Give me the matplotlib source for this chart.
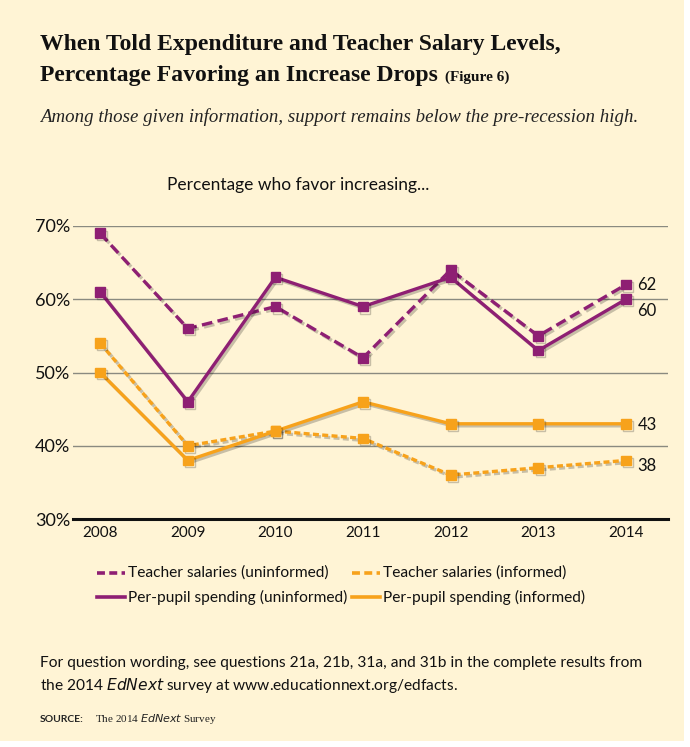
import matplotlib
matplotlib.use("Agg")
import matplotlib.pyplot as plt
import matplotlib.patheffects as pe
from matplotlib.patches import Rectangle
from matplotlib.lines import Line2D

years = [2008, 2009, 2010, 2011, 2012, 2013, 2014]
teacher_uninformed = [69, 56, 59, 52, 64, 55, 62]
perpupil_uninformed = [61, 46, 63, 59, 63, 53, 60]
teacher_informed = [54, 40, 42, 41, 36, 37, 38]
perpupil_informed = [50, 38, 42, 46, 43, 43, 43]
yticks = [30, 40, 50, 60, 70]
ytick_labels = ["30%", "40%", "50%", "60%", "70%"]
series_labels = ["Teacher salaries (uninformed)", "Teacher salaries (informed)",
                 "Per-pupil spending (uninformed)", "Per-pupil spending (informed)"]

PURPLE = "#8E1F73"
ORANGE = "#F7A21B"
BG = "#FFF4D5"
W, H = 690, 747

fig = plt.figure(figsize=(W / 100, H / 100), dpi=100)
fig.patch.set_facecolor("white")
fig.add_artist(Rectangle((0, 1 - 741 / H), 684 / W, 741 / H, transform=fig.transFigure,
                         facecolor=BG, edgecolor="none", zorder=-10))

def fx(px):
    return px / W

def fy(py):
    return 1 - py / H

sans = ["Lato", "DejaVu Sans"]
serif = ["Liberation Serif", "DejaVu Serif"]

fig.text(fx(40), fy(50), "When Told Expenditure and Teacher Salary Levels,", fontsize=17,
         fontweight="bold", family=serif, color="#111111", va="baseline")
t2 = fig.text(fx(40), fy(81), "Percentage Favoring an Increase Drops", fontsize=17,
              fontweight="bold", family=serif, color="#111111", va="baseline")
fig.canvas.draw()
bb = t2.get_window_extent(renderer=fig.canvas.get_renderer())
fig.text(bb.x1 / W + fx(7), fy(81), "(Figure 6)", fontsize=11, fontweight="bold", family=serif,
         color="#111111", va="baseline")
fig.text(fx(40), fy(122), "Among those given information, support remains below the pre-recession high.",
         fontsize=13.6, style="italic", family=serif, color="#222222", va="baseline")
fig.text(fx(298), fy(190), "Percentage who favor increasing...", fontsize=12.5, family=sans,
         color="#111111", ha="center", va="baseline")

x0, x1 = 2007.69, 2014.48
ax = fig.add_axes([fx(73), fy(519), fx(668) - fx(73), (519 - 226) / H])
ax.set_facecolor("none")
ax.set_xlim(x0, x1)
ax.set_ylim(30, 70)
for s in ["top", "right", "left"]:
    ax.spines[s].set_visible(False)
ax.spines["bottom"].set_linewidth(2.2)
ax.spines["bottom"].set_color("#111111")
ax.set_yticks(yticks)
ax.set_yticklabels(ytick_labels)
ax.set_xticks(years)
ax.set_xticklabels([str(y) for y in years])
ax.tick_params(axis="both", length=0, labelsize=11, colors="#111111")
ax.tick_params(axis="y", pad=2, labelsize=13)
ax.tick_params(axis="x", pad=5)
for lab in ax.get_xticklabels() + ax.get_yticklabels():
    lab.set_family(sans)
for y in yticks[1:]:
    ax.axhline(y, color="#8a8a80", lw=1.0, zorder=1)

shadow = [pe.SimpleLineShadow(offset=(1.5, -1.5), shadow_color="#000000", alpha=0.22), pe.Normal()]
lw = 2.4
ms = 7
ax.plot(years, teacher_uninformed, color=PURPLE, lw=lw, ls=(0, (3.2, 1.6)), marker="s", ms=ms,
        zorder=4, path_effects=shadow, clip_on=False)
ax.plot(years, perpupil_uninformed, color=PURPLE, lw=lw, ls="-", marker="s", ms=ms,
        zorder=4, path_effects=shadow, clip_on=False)
ax.plot(years, teacher_informed, color=ORANGE, lw=lw, ls=(0, (1.8, 1.0)), marker="s", ms=ms,
        zorder=3, path_effects=shadow, clip_on=False)
ax.plot(years, perpupil_informed, color=ORANGE, lw=lw, ls="-", marker="s", ms=ms,
        zorder=3, path_effects=shadow, clip_on=False)

end_labels = [(teacher_uninformed[-1], 0.0), (perpupil_uninformed[-1], -1.6),
              (perpupil_informed[-1], -0.1), (teacher_informed[-1], -0.8)]
for v, dy in end_labels:
    ax.text(years[-1] + 0.13, v + dy, str(v), fontsize=12, family=sans, color="#111111",
            va="center", ha="left")

# legend
leg_items = [
    (97, 573, PURPLE, (0, (2.2, 1.2)), series_labels[0]),
    (352, 573, ORANGE, (0, (2.2, 1.2)), series_labels[1]),
    (97, 597, PURPLE, "-", series_labels[2]),
    (352, 597, ORANGE, "-", series_labels[3]),
]
for px, py, c, ls, lab in leg_items:
    fig.add_artist(Line2D([fx(px), fx(px + 28)], [fy(py), fy(py)], color=c, lw=2.6, ls=ls,
                          transform=fig.transFigure))
    fig.text(fx(px + 31), fy(py), lab, fontsize=11.2, family=sans, color="#111111", va="center")

fig.text(fx(40), fy(667), "For question wording, see questions 21a, 21b, 31a, and 31b in the complete results from",
         fontsize=11.2, family=sans, color="#111111", va="baseline")
fig.text(fx(40), fy(690), "the 2014 $\\it{EdNext}$ survey at www.educationnext.org/edfacts.",
         fontsize=11.2, family=sans, color="#111111", va="baseline")
fig.text(fx(40), fy(722), "SOURCE:", fontsize=7.5, fontweight="bold", family=sans, color="#222222",
         va="baseline")
fig.text(fx(95), fy(722), "The 2014 $\\it{EdNext}$ Survey", fontsize=8, family=serif, color="#222222",
         va="baseline")

fig.savefig("out.png", dpi=100, facecolor="white")
